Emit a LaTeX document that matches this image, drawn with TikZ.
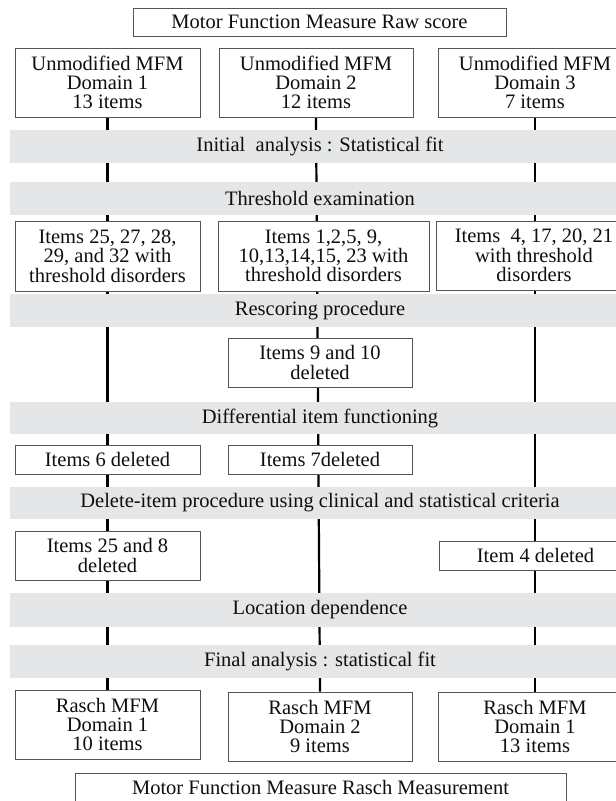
\documentclass[tikz,border=0pt]{standalone}
\usepackage{fontspec}
\setmainfont{Liberation Serif}
\usetikzlibrary{backgrounds}
\definecolor{bandgray}{RGB}{229,230,232}
\definecolor{boxline}{RGB}{85,85,85}
\definecolor{txt}{RGB}{15,15,15}
\begin{document}
\begin{tikzpicture}[x=1pt,y=-1pt,
  every node/.style={font=\fontsize{20.5}{19.3}\selectfont, text=txt, inner sep=0pt, align=center},
  box/.style={draw=boxline, line width=1pt, fill=white},
  band/.style={fill=bandgray, minimum width=620pt, minimum height=33pt},
  conn/.style={line width=2.2pt, black}]
\useasboundingbox (0,0) rectangle (616,801);

% top and bottom
\node[box, minimum width=373pt, minimum height=28pt] (top) at (319.5,22) {Motor Function Measure Raw score};
\node[box, minimum width=491pt, minimum height=29pt] (bot) at (320.5,787.5) {Motor Function Measure Rasch Measurement};

% domain boxes
\node[box, minimum width=185pt, minimum height=69pt] (d1) at (107.5,82.5) {Unmodified MFM\\Domain 1\\13 items};
\node[box, minimum width=194pt, minimum height=69pt] (d2) at (316,82.5) {Unmodified MFM\\Domain 2\\12 items};
\node[box, minimum width=194pt, minimum height=69pt] (d3) at (535,82.5) {Unmodified MFM\\Domain 3\\7 items};

% bands
\node[band] (b1) at (320,146.5) {Initial\ \ analysis : Statistical fit};
\node[band] (b2) at (320,198.5) {Threshold examination};
\node[band] (b3) at (320,310.5) {Rescoring procedure};
\node[band, minimum height=32pt] (b4) at (320,418) {Differential item functioning};
\node[band, minimum height=32pt] (b5) at (320,503) {Delete-item procedure using clinical and statistical criteria};
\node[band, minimum height=34pt] (b6) at (320,610) {Location dependence};
\node[band] (b7) at (320,661.5) {Final analysis : statistical fit};

% threshold boxes
\node[box, minimum width=185pt, minimum height=70pt] (t1) at (107.5,256) {Items 25, 27, 28,\\29, and 32 with\\threshold disorders};
\node[box, minimum width=211pt, minimum height=70pt] (t2) at (323.5,256) {Items 1,2,5, 9,\\10,13,14,15, 23 with\\threshold disorders};
\node[box, minimum width=196pt, minimum height=69pt] (t3) at (534,255.5) {Items\ \ 4, 17, 20, 21\\with threshold\\disorders};

% rescoring result
\node[box, minimum width=184pt, minimum height=49pt] (r9) at (320,362.5) {Items 9 and 10\\deleted};

% DIF results
\node[box, minimum width=185pt, minimum height=29pt] (i6) at (107.5,459.5) {Items 6 deleted};
\node[box, minimum width=184pt, minimum height=29pt] (i7) at (320,459.5) {Items 7deleted};

% delete-item results
\node[box, minimum width=185pt, minimum height=49pt] (i25) at (107.5,555.5) {Items 25 and 8\\deleted};
\node[box, minimum width=193pt, minimum height=29pt] (i4) at (535.5,555.5) {Item 4 deleted};

% final boxes
\node[box, minimum width=185pt, minimum height=69pt] (f1) at (107.5,724.5) {Rasch MFM\\Domain 1\\10 items};
\node[box, minimum width=184pt, minimum height=69pt] (f2) at (320,726.5) {Rasch MFM\\Domain 2\\9 items};
\node[box, minimum width=194pt, minimum height=69pt] (f3) at (535,726.5) {Rasch MFM\\Domain 1\\13 items};

\begin{scope}[on background layer]
\fill[white] (0,0) rectangle (616,801);
\draw[conn] (d1.south) -- (f1.north);
\draw[conn] (d2.south) -- (f2.north);
\draw[conn] (d3.south) -- (f3.north);
\end{scope}
\end{tikzpicture}
\end{document}
